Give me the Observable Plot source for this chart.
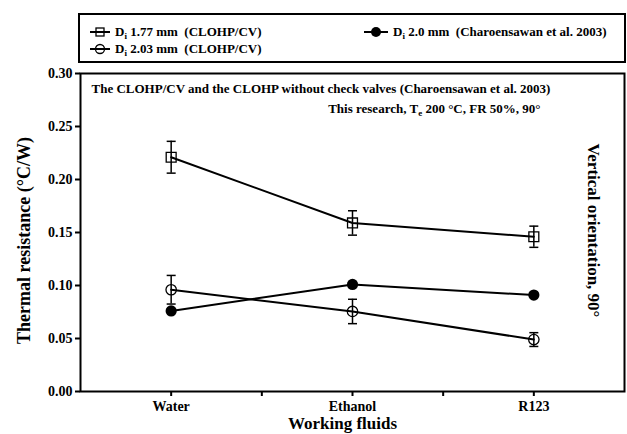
<!DOCTYPE html>
<html>
<head>
<meta charset="utf-8">
<script src="https://cdn.jsdelivr.net/npm/d3@7"></script>
<script src="https://cdn.jsdelivr.net/npm/@observablehq/plot@0.6"></script>
<style>
  body { margin: 0; background: #fff; font-family: "Liberation Serif", serif; font-weight: bold; }
  #legend { position: relative; width: 627px; height: 64px; }
  #legend .box { position: absolute; left: 78px; top: 13px; width: 544px; height: 46px; border: 2px solid #000; }
  #legend .item { position: absolute; font-size: 13px; white-space: nowrap; display: flex; align-items: center; }
  #legend svg { margin-right: 5px; }
  sub { font-size: 9px; vertical-align: -3px; line-height: 0; }
</style>
</head>
<body>
<div id="legend"></div>
<div id="chart"></div>
<script>
// ---- data ----
const categories = ["Water", "Ethanol", "R123"];
const d177 = [0.221, 0.159, 0.146];
const d177Err = [0.015, 0.0115, 0.010];
const d203 = [0.096, 0.0755, 0.049];
const d203Err = [0.0135, 0.0115, 0.0065];
const d20 = [0.076, 0.101, 0.091];
const yTicks = [0, 0.05, 0.10, 0.15, 0.20, 0.25, 0.30];
const xTicks = [0, 0.5, 1, 1.5, 2];

const legendItems = [
  {label: "1.77 mm", note: "(CLOHP/CV)", symbol: "square", left: 90, top: 24},
  {label: "2.03 mm", note: "(CLOHP/CV)", symbol: "circle", left: 90, top: 41},
  {label: "2.0 mm", note: "(Charoensawan et al. 2003)", symbol: "dot", left: 364, top: 24}
];

// ---- legend (HTML) ----
const leg = document.getElementById("legend");
leg.innerHTML = '<div class="box"></div>';
for (const it of legendItems) {
  let mk;
  if (it.symbol === "square") mk = '<rect x="6" y="2" width="8" height="8" fill="none" stroke="#000" stroke-width="1.3"/>';
  else if (it.symbol === "circle") mk = '<circle cx="10" cy="6" r="4.5" fill="none" stroke="#000" stroke-width="1.3"/>';
  else mk = '<circle cx="12" cy="6" r="5" fill="#000"/>';
  const w = it.symbol === "dot" ? 24 : 20;
  const div = document.createElement("div");
  div.className = "item";
  div.style.left = it.left + "px";
  div.style.top = it.top + "px";
  div.innerHTML = `<svg width="${w}" height="12"><line x1="0" y1="6" x2="${w}" y2="6" stroke="#000" stroke-width="2"/>${mk}</svg>` +
    `<span>D<sub>i</sub> ${it.label}&nbsp; ${it.note}</span>`;
  leg.appendChild(div);
}

// ---- chart ----
const rows = categories.map((c, i) => ({
  i, cat: c,
  a: d177[i], aLo: d177[i] - d177Err[i], aHi: d177[i] + d177Err[i],
  b: d203[i], bLo: d203[i] - d203Err[i], bHi: d203[i] + d203Err[i],
  c: d20[i]
}));

const hLine = {
  draw(context, size) {
    const r = 4.5;
    context.moveTo(-r, 0);
    context.lineTo(r, 0);
  }
};

const font = "Liberation Serif";
const chart = Plot.plot({
  width: 627,
  height: 370,
  marginTop: 9,
  marginBottom: 43,
  marginLeft: 80,
  marginRight: 3,
  style: {fontFamily: font, fontWeight: "bold", background: "#fff", color: "#000"},
  x: {domain: [-0.5, 2.5]},
  y: {domain: [0, 0.30]},
  marks: [
    Plot.axisY({ticks: yTicks, tickFormat: d => d.toFixed(2), tickSize: 5, tickPadding: 3, fontSize: 14, strokeWidth: 2, label: null}),
    Plot.axisX({ticks: xTicks, tickFormat: d => Number.isInteger(d) ? categories[d] : "", tickSize: 5, tickPadding: 5, fontSize: 14, strokeWidth: 2, label: null}),
    Plot.frame({stroke: "#000", strokeWidth: 2}),
    // series D 1.77
    Plot.ruleX(rows, {x: "i", y1: "aLo", y2: "aHi", stroke: "#000", strokeWidth: 1.5}),
    Plot.dot(rows, {x: "i", y: "aLo", symbol: hLine, stroke: "#000", strokeWidth: 1.5, fill: "none"}),
    Plot.dot(rows, {x: "i", y: "aHi", symbol: hLine, stroke: "#000", strokeWidth: 1.5, fill: "none"}),
    Plot.line(rows, {x: "i", y: "a", stroke: "#000", strokeWidth: 2}),
    Plot.dot(rows, {x: "i", y: "a", symbol: "square", r: 5.6, stroke: "#000", strokeWidth: 1.3, fill: "none"}),
    // series D 2.03
    Plot.ruleX(rows, {x: "i", y1: "bLo", y2: "bHi", stroke: "#000", strokeWidth: 1.5}),
    Plot.dot(rows, {x: "i", y: "bLo", symbol: hLine, stroke: "#000", strokeWidth: 1.5, fill: "none"}),
    Plot.dot(rows, {x: "i", y: "bHi", symbol: hLine, stroke: "#000", strokeWidth: 1.5, fill: "none"}),
    Plot.line(rows, {x: "i", y: "b", stroke: "#000", strokeWidth: 2}),
    Plot.dot(rows, {x: "i", y: "b", symbol: "circle", r: 5.2, stroke: "#000", strokeWidth: 1.3, fill: "none"}),
    // series D 2.0 (Charoensawan)
    Plot.line(rows, {x: "i", y: "c", stroke: "#000", strokeWidth: 2}),
    Plot.dot(rows, {x: "i", y: "c", symbol: "circle", r: 5.6, fill: "#000", stroke: "none"}),
    // annotations
    Plot.text(["The CLOHP/CV and the CLOHP without check valves (Charoensawan et al. 2003)"],
      {frameAnchor: "top-left", dx: 11, dy: 10, textAnchor: "start", lineAnchor: "top", fontSize: 13}),
    Plot.text(["This research, Te 200 °C, FR 50%, 90°"],
      {frameAnchor: "top-right", dx: -84, dy: 30, textAnchor: "end", lineAnchor: "top", fontSize: 13}),
    Plot.text(["Vertical orientation, 90°"],
      {frameAnchor: "right", rotate: 90, dx: -31, dy: -2, textAnchor: "middle", lineAnchor: "middle", fontSize: 17}),
    Plot.text(["Thermal resistance (°C/W)"],
      {frameAnchor: "left", rotate: -90, dx: -56, dy: 8, textAnchor: "middle", lineAnchor: "middle", fontSize: 18}),
    Plot.text(["Working fluids"],
      {frameAnchor: "bottom", dx: -10, dy: 32, textAnchor: "middle", lineAnchor: "middle", fontSize: 17})
  ]
});
document.getElementById("chart").appendChild(chart);

// subscript e in T_e
chart.querySelectorAll("text").forEach(t => {
  if (t.textContent === "This research, Te 200 °C, FR 50%, 90°") {
    t.textContent = "";
    const ns = "http://www.w3.org/2000/svg";
    const a = document.createElementNS(ns, "tspan"); a.textContent = "This research, T";
    const b = document.createElementNS(ns, "tspan"); b.textContent = "e"; b.setAttribute("dy", "3"); b.setAttribute("font-size", "9");
    const c = document.createElementNS(ns, "tspan"); c.textContent = " 200 °C, FR 50%, 90°"; c.setAttribute("dy", "-3");
    t.append(a, b, c);
  }
});
</script>
</body>
</html>
